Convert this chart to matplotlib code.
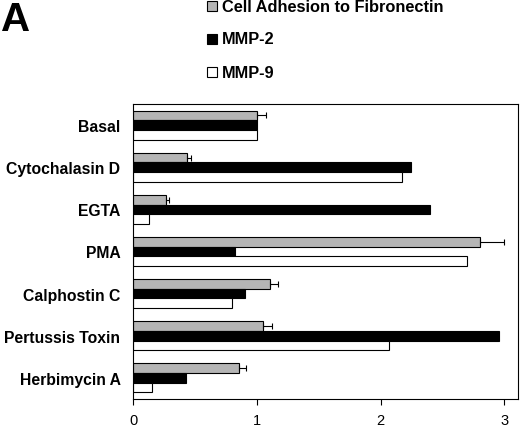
import matplotlib
matplotlib.use("Agg")
import matplotlib.pyplot as plt
import numpy as np

plt.rcParams['font.family'] = ['Liberation Sans', 'DejaVu Sans']

categories = ["Basal", "Cytochalasin D", "EGTA", "PMA", "Calphostin C",
              "Pertussis Toxin", "Herbimycin A"]
adhesion = [1.00, 0.44, 0.265, 2.80, 1.105, 1.05, 0.855]
adhesion_err = [0.075, 0.025, 0.025, 0.20, 0.07, 0.07, 0.06]
mmp2 = [1.00, 2.245, 2.40, 0.82, 0.905, 2.96, 0.425]
mmp9 = [1.00, 2.17, 0.13, 2.70, 0.80, 2.07, 0.15]
series_names = ["Cell Adhesion to Fibronectin", "MMP-2", "MMP-9"]
xticks = [0, 1, 2, 3]

fig = plt.figure(figsize=(5.2, 4.31), dpi=100)
ax = fig.add_axes([133/520, 1 - 400/431, (518-133)/520, (400-105)/431])

y = np.arange(len(categories))
h = 0.23
colors = ["#b5b5b5", "#000000", "#ffffff"]
err = [np.zeros(len(adhesion_err)), adhesion_err]
ax.barh(y - h, adhesion, height=h, color=colors[0], edgecolor="black", linewidth=0.8,
        xerr=err, error_kw=dict(ecolor="black", elinewidth=0.8, capsize=2.5, capthick=0.8))
ax.barh(y, mmp2, height=h, color=colors[1], edgecolor="black", linewidth=0.8)
ax.barh(y + h, mmp9, height=h, color=colors[2], edgecolor="black", linewidth=0.8)

ax.set_ylim(6.5, -0.5)
ax.set_xlim(0, 3.11)
ax.set_yticks(y)
ax.set_yticklabels(categories, fontsize=11.3, fontweight="bold")
ax.tick_params(axis='y', length=0, pad=9)
ax.set_xticks(xticks)
ax.set_xticklabels([str(t) for t in xticks], fontsize=10.5)
ax.tick_params(axis='x', direction='out', length=4, width=0.8, pad=6)
for s in ax.spines.values():
    s.set_linewidth(0.8)

# legend
for i, (name, c) in enumerate(zip(series_names, colors)):
    yy = 1 - (7 + 33 * i) / 431
    fig.patches.append(plt.Rectangle((207/520, yy - 5/431), 10/520, 10/431,
                                     transform=fig.transFigure, facecolor=c,
                                     edgecolor="black", linewidth=0.8))
    fig.text(222/520, yy, name, fontsize=11.8, fontweight="bold", va="center", ha="left")

fig.text(1/520, 1 - 1/431, "A", fontsize=29, fontweight="bold", va="top", ha="left")

fig.savefig("out.png", dpi=100)
